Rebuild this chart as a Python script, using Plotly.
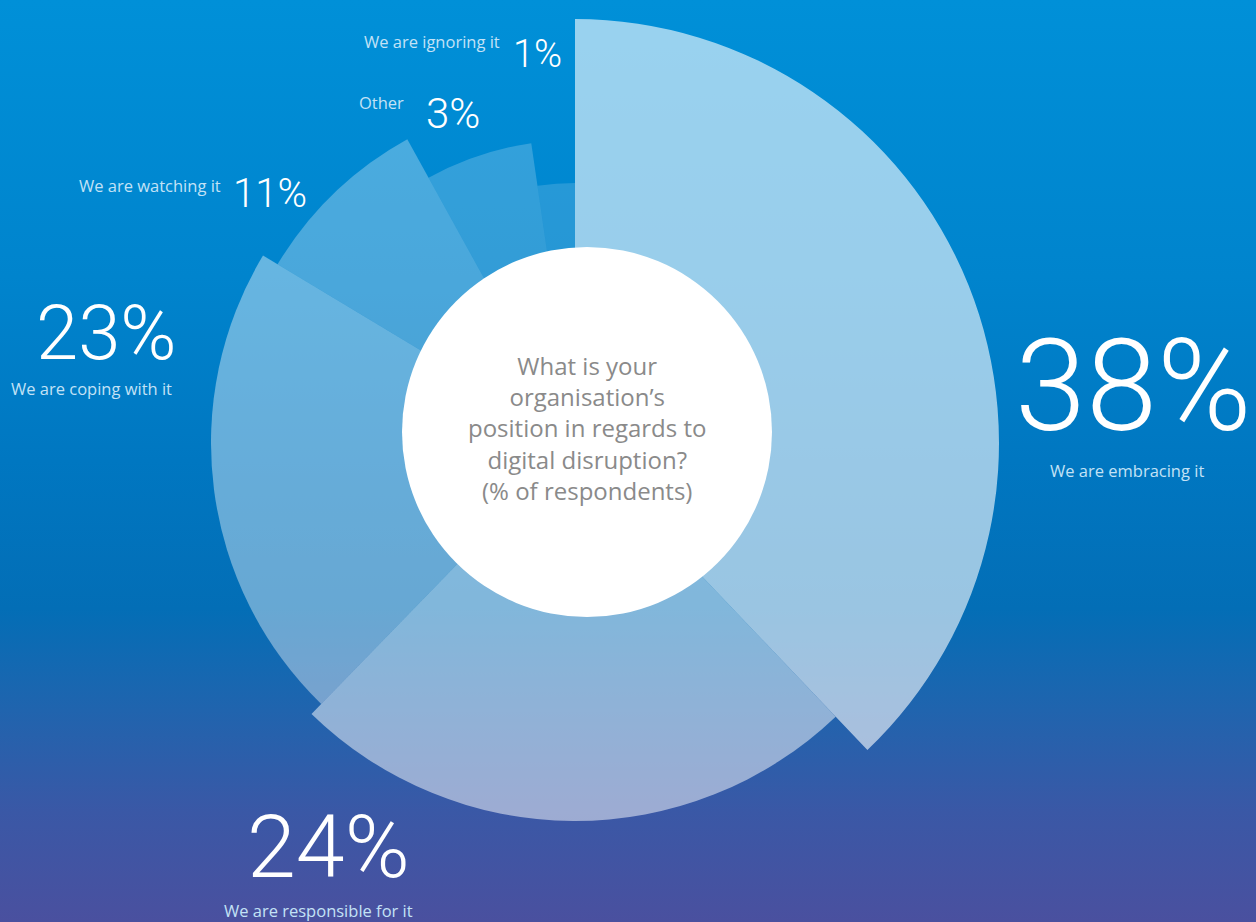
import base64
import numpy as np
import plotly.graph_objects as go

# ---- data ----
categories = ["We are embracing it", "We are responsible for it", "We are coping with it",
              "We are watching it", "Other", "We are ignoring it"]
percent = [38, 24, 23, 11, 3, 1]
# angular width of each sector as drawn (degrees)
sector_deg = [136.4, 87.8, 76.8, 30.1, 20.6, 8.3]
# relative outer length of each sector
sector_len = [424, 378, 364, 347, 303, 260]
fill_alpha = [0.60, 0.50, 0.40, 0.29, 0.20, 0.15]

W, H = 1256, 922
CX, CY, S = 575, 443, 430   # polar centre and half-size in px

starts = np.concatenate([[0], np.cumsum(sector_deg)[:-1]])
centres = starts + np.array(sector_deg) / 2

fig = go.Figure()
fig.add_trace(go.Barpolar(
    r=sector_len, theta=centres, width=sector_deg,
    marker=dict(color=[f"rgba(255,255,255,{a})" for a in fill_alpha], line=dict(width=0)),
    hoverinfo="skip", showlegend=False,
))

svg = f"""<svg xmlns='http://www.w3.org/2000/svg' width='{W}' height='{H}' viewBox='0 0 {W} {H}' preserveAspectRatio='none'>
<defs><linearGradient id='g' x1='0' y1='0' x2='0' y2='1'>
<stop offset='0' stop-color='#0090d8'/>
<stop offset='0.3' stop-color='#0084cd'/>
<stop offset='0.5' stop-color='#0077c1'/>
<stop offset='0.66' stop-color='#036eb6'/>
<stop offset='0.77' stop-color='#2064ae'/>
<stop offset='0.88' stop-color='#3a58a6'/>
<stop offset='1' stop-color='#4a509f'/>
</linearGradient></defs>
<rect x='0' y='0' width='{W}' height='{H}' fill='url(#g)'/></svg>"""
uri = "data:image/svg+xml;base64," + base64.b64encode(svg.encode()).decode()


def px(x):
    return x / W


def py(y):
    return 1 - y / H


annotations = []
BIG = "Roboto, sans-serif"
SMALL = "Open Sans, Lato, sans-serif"
LBL = "#c3e2f6"

big_specs = [  # (text idx, x, y, size)
    (0, 1133, 386, 128),
    (1, 328, 846, 88),
    (2, 106, 333, 76),
    (3, 270, 193, 40),
    (4, 453, 113, 42),
    (5, 537, 54, 38),
]
for i, x, y, s in big_specs:
    annotations.append(dict(text=f"{percent[i]}%", x=px(x), y=py(y), xref="paper", yref="paper",
                            xanchor="center", yanchor="middle", showarrow=False,
                            font=dict(family=BIG, size=s, color="white", weight=300)))

lbl_specs = [  # (idx, x, y, anchor)
    (0, 1127, 470, "center"),
    (1, 318, 910, "center"),
    (2, 91, 388, "center"),
    (3, 223, 186, "right"),
    (4, 406, 102, "right"),
    (5, 502, 42, "right"),
]
for i, x, y, a in lbl_specs:
    annotations.append(dict(text=categories[i], x=px(x), y=py(y), xref="paper", yref="paper",
                            xanchor=a, yanchor="middle", showarrow=False,
                            font=dict(family=SMALL, size=16.5, color=LBL)))

annotations.append(dict(
    text="What is your<br>organisation’s<br>position in regards to<br>digital disruption?<br>(% of respondents)",
    x=px(587), y=py(428), xref="paper", yref="paper", xanchor="center", yanchor="middle",
    showarrow=False, align="center", font=dict(family=SMALL, size=24, color="#8a8a8a")))

R_WHITE = 185
WCX, WCY = 587, 432
fig.update_layout(
    width=W, height=H, margin=dict(l=0, r=0, t=0, b=0),
    paper_bgcolor="#0077c1", plot_bgcolor="rgba(0,0,0,0)",
    images=[dict(source=uri, xref="paper", yref="paper", x=0, y=1, sizex=1, sizey=1,
                 sizing="stretch", layer="below", xanchor="left", yanchor="top")],
    polar=dict(
        domain=dict(x=[px(CX - S), px(CX + S)], y=[py(CY + S), py(CY - S)]),
        bgcolor="rgba(0,0,0,0)", bargap=0,
        angularaxis=dict(rotation=90, direction="clockwise", visible=False, showgrid=False),
        radialaxis=dict(range=[0, S], visible=False, showgrid=False),
    ),
    shapes=[dict(type="circle", xref="paper", yref="paper", layer="above",
                 x0=px(WCX - R_WHITE), x1=px(WCX + R_WHITE),
                 y0=py(WCY + R_WHITE), y1=py(WCY - R_WHITE),
                 fillcolor="white", line=dict(width=0))],
    annotations=annotations,
)

fig.write_html("out.html")
